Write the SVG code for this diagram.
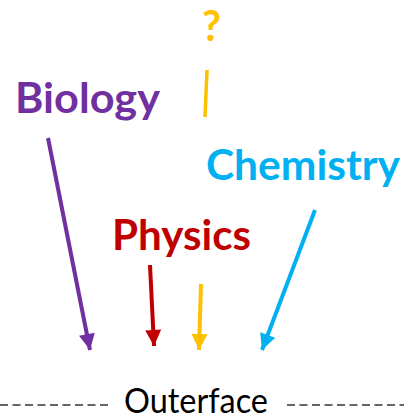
<svg xmlns="http://www.w3.org/2000/svg" width="404" height="420" viewBox="0 0 404 420">
<style>
.lbl{font-family:Lato,"Open Sans","Liberation Sans",sans-serif;font-weight:bold;font-size:42px}
.out{font-family:Lato,"Open Sans","Liberation Sans",sans-serif;font-size:34px;fill:#000}
.dash{stroke:#333;stroke-width:1.3;stroke-dasharray:8 4.5}
</style>
<defs>
<marker id="hp" viewBox="0 0 10 10" refX="10" refY="5" markerWidth="4.2" markerHeight="4" markerUnits="strokeWidth" orient="auto"><path d="M0,0 L10,5 L0,10 z" fill="#7030A0"/></marker>
<marker id="hr" viewBox="0 0 10 10" refX="10" refY="5" markerWidth="4.2" markerHeight="4" markerUnits="strokeWidth" orient="auto"><path d="M0,0 L10,5 L0,10 z" fill="#C00000"/></marker>
<marker id="hy" viewBox="0 0 10 10" refX="10" refY="5" markerWidth="4.2" markerHeight="4" markerUnits="strokeWidth" orient="auto"><path d="M0,0 L10,5 L0,10 z" fill="#FFC000"/></marker>
<marker id="hb" viewBox="0 0 10 10" refX="10" refY="5" markerWidth="4.2" markerHeight="4" markerUnits="strokeWidth" orient="auto"><path d="M0,0 L10,5 L0,10 z" fill="#00B0F0"/></marker>
</defs>
<g id="unknown"><text class="lbl" x="202" y="41" fill="#FFC000" textLength="19" lengthAdjust="spacingAndGlyphs">?</text>
<line x1="207" y1="70" x2="205" y2="117" stroke="#FFC000" stroke-width="3.5"/></g>
<g id="biology"><text class="lbl" x="15" y="113" fill="#7030A0" textLength="145" lengthAdjust="spacingAndGlyphs">Biology</text></g>
<g id="chemistry"><text class="lbl" x="206" y="180" fill="#00B0F0" textLength="194" lengthAdjust="spacingAndGlyphs">Chemistry</text></g>
<g id="physics"><text class="lbl" x="112" y="250" fill="#C00000" textLength="139" lengthAdjust="spacingAndGlyphs">Physics</text></g>
<g id="outerface"><text class="out" x="124" y="413" textLength="144" lengthAdjust="spacingAndGlyphs">Outerface</text>
<line class="dash" x1="0" y1="405" x2="108" y2="405"/>
<line class="dash" x1="287" y1="405" x2="404" y2="405"/></g>
<g id="connectors">
<line x1="48" y1="138" x2="90" y2="350" stroke="#7030A0" stroke-width="4" marker-end="url(#hp)"/>
<line x1="150" y1="265" x2="154" y2="346" stroke="#C00000" stroke-width="4" marker-end="url(#hr)"/>
<line x1="201" y1="284" x2="199" y2="350" stroke="#FFC000" stroke-width="4" marker-end="url(#hy)"/>
<line x1="315" y1="210" x2="262" y2="350" stroke="#00B0F0" stroke-width="4" marker-end="url(#hb)"/>
</g>
</svg>
